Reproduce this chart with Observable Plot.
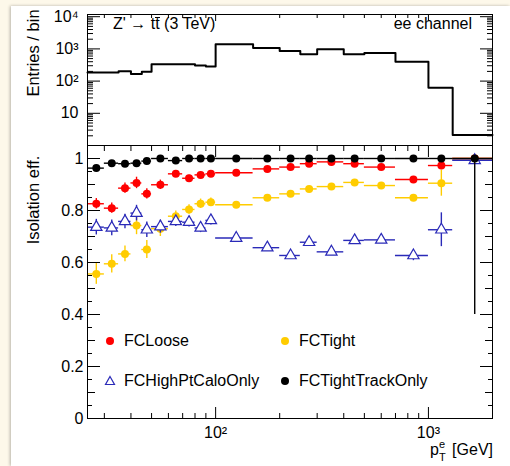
<!DOCTYPE html>
<html><head><meta charset="utf-8">
<script src="https://cdn.jsdelivr.net/npm/d3@7"></script>
<script src="https://cdn.jsdelivr.net/npm/@observablehq/plot@0.6"></script>
<style>
body{margin:0;background:#fdf8ea;font-family:"Liberation Sans",Arial,sans-serif;color:#000;}
#wrap{position:relative;width:510px;height:466px;overflow:hidden;}
#panel{position:absolute;left:11px;top:6px;width:499px;height:460px;background:#fff;box-shadow:-1px 0 3px rgba(0,0,0,0.28);}
.abs{position:absolute;white-space:nowrap;line-height:16px;font-size:16px;}
.rot{transform:translate(-50%,-50%) rotate(-90deg);}
</style></head><body>
<div id="wrap">
<div id="panel"></div>
<div id="top" class="abs" style="left:0;top:0"></div>
<div id="bot" class="abs" style="left:0;top:140px"></div>
<div class="abs rot" style="left:33px;top:53px;font-size:16.5px;">Entries / bin</div>
<div class="abs rot" style="left:33px;top:200px;font-size:16.5px;">Isolation eff.</div>
<div class="abs" style="left:113px;top:16px;">Z' &#8594; t<span style="position:relative;display:inline-block;">t<span style="position:absolute;left:0px;width:5px;top:1px;height:1.3px;background:#000;"></span></span> (3 TeV)</div>
<div class="abs" style="right:38px;top:16px;">ee channel</div>
<div id="legend"></div>
<svg class="abs" style="left:0;top:0;overflow:visible" width="510" height="466">
  <g font-family="'Liberation Sans', Arial, sans-serif" fill="#000">
    <text x="430" y="455" font-size="16">p</text>
    <text x="439" y="461" font-size="11">T</text>
    <text x="439" y="448" font-size="11">e</text>
    <text x="493" y="455" font-size="16" text-anchor="end">[GeV]</text>
  </g>
</svg>
</div>
<script>
// ---- Upper panel: entries per bin ----
const histEdges  = [25,35,40,45,50,80,90,100,150,200,250,300,400,500,700,1000,1300,2000];
const histCounts = [186,204,165,195,336,306,285,1400,1074,867,685,980,685,752,396,62,2.1];

// ---- Lower panel: isolation efficiencies ----
const binLow    = [25,30,35,40,45,50,60,70,80,90,100,150,200,250,300,400,500,700,1000,1300];
const binHigh   = [30,35,40,45,50,60,70,80,90,100,150,200,250,300,400,500,700,1000,1300,2000];
const binCenter = [27.5,32.5,37.5,42.5,47.5,55,65,75,85,95,125,175,225,275,350,450,600,850,1150,1650];

const fcLoose    = [0.826,0.809,0.886,0.906,0.864,0.899,0.941,0.924,0.937,0.941,0.945,0.960,0.967,0.980,0.987,0.980,0.967,0.919,0.973,1.0];
const fcLooseErr = [0.020,0.020,0.020,0.022,0.020,0.018,0.012,0.012,0.010,0.010,0.006,0.005,0.005,0.005,0.004,0.004,0.005,0.008,0.015,0.0];
const fcTight    = [0.556,0.595,0.633,0.742,0.650,0.730,0.778,0.804,0.826,0.832,0.822,0.849,0.864,0.883,0.892,0.908,0.896,0.849,0.905,1.0];
const fcTightErr = [0.040,0.035,0.030,0.035,0.035,0.030,0.020,0.018,0.018,0.016,0.008,0.007,0.006,0.006,0.005,0.005,0.006,0.012,0.050,0.0];
const caloOnly    = [0.736,0.733,0.758,0.790,0.726,0.738,0.758,0.755,0.733,0.762,0.694,0.657,0.627,0.678,0.641,0.685,0.687,0.627,0.726,0.993];
const caloOnlyErr = [0.030,0.030,0.028,0.030,0.030,0.025,0.020,0.018,0.018,0.018,0.010,0.008,0.008,0.008,0.007,0.007,0.008,0.020,0.065,0.010];
const trackOnly    = [0.963,0.982,0.980,0.982,0.990,1.0,0.992,1.0,1.0,1.0,1.0,1.0,1.0,1.0,1.0,1.0,1.0,1.0,1.0,1.0];
const trackOnlyErr = [0.008,0.005,0.005,0.005,0.004,0.003,0.004,0.002,0.002,0.002,0.001,0.001,0.001,0.001,0.001,0.001,0.001,0.002,0.004,0.6];

const seriesNames  = ["FCLoose","FCTight","FCHighPtCaloOnly","FCTightTrackOnly"];
const seriesColors = ["#ff0000","#ffcc00","#2a2ab8","#000000"];

// ---- ticks ----
const xMajor = [100,1000];
const xMinor = [30,40,50,60,70,80,90,200,300,400,500,600,700,800,900];
const xMajorLabels = ["10\u00b2","10\u00b3"];
const upYMajor = [10,100,1000,10000];
const upYMajorLabels = ["10","10\u00b2","10\u00b3","10\u2074"];
const upYMinor = [2,3,4,5,6,7,8,9,20,30,40,50,60,70,80,90,200,300,400,500,600,700,800,900,2000,3000,4000,5000,6000,7000,8000,9000];
const loYMajor = [0,0.2,0.4,0.6,0.8,1.0];
const loYMid = [0.1,0.3,0.5,0.7,0.9];
const loYMinor = [0.05,0.15,0.25,0.35,0.45,0.55,0.65,0.75,0.85,0.95];

const style = {background:"transparent", fontFamily:"'Liberation Sans', Arial, sans-serif", fontSize:"16px", color:"#000", overflow:"visible"};

function yTicks(vals, size){
  return ["left","right"].map(a => Plot.axisY(vals, {anchor:a, tickSize:-size, fill:"none", label:null, stroke:"#000"}));
}
function xTicks(vals, size){
  return ["top","bottom"].map(a => Plot.axisX(vals, {anchor:a, tickSize:-size, fill:"none", label:null, stroke:"#000"}));
}

// Upper
const histPts = histEdges.map((e,i)=>({x:e, y:histCounts[Math.min(i, histCounts.length-1)]}));
const upper = Plot.plot({
  width:510, height:146, marginLeft:87, marginRight:18, marginTop:14, marginBottom:1,
  style,
  x:{type:"log", domain:[25,2000], axis:null},
  y:{type:"log", domain:[1,11700], axis:null},
  marks:[
    Plot.line(histPts, {x:"x", y:"y", curve:"step-after", stroke:"#000", strokeWidth:2}),
    ...yTicks(upYMajor, 13),
    ...yTicks(upYMinor, 6),
    Plot.axisY(upYMajor, {anchor:"left", tickSize:0, tickPadding:9, label:null, tickFormat:(d)=>upYMajorLabels[upYMajor.indexOf(d)], fontSize:16}),
    Plot.axisX(xMajor, {anchor:"top", tickSize:-6, fill:"none", label:null}),
    Plot.axisX(xMinor, {anchor:"top", tickSize:-3, fill:"none", label:null}),
    Plot.frame({stroke:"#000", strokeWidth:1})
  ]
});
document.getElementById("top").append(upper);

// Lower
const effSets = [fcTight, fcLoose, caloOnly, trackOnly];
const errSets = [fcTightErr, fcLooseErr, caloOnlyErr, trackOnlyErr];
const drawOrder = [1,0,2,3];
const effMarks = [];
drawOrder.forEach((si, k) => {
  const vals = effSets[k], errs = errSets[k];
  const rows = binCenter.map((c,i)=>({c, lo:binLow[i], hi:binHigh[i], v:vals[i], v1:Math.max(0, vals[i]-errs[i]), v2:Math.min(1, vals[i]+errs[i])}));
  const col = seriesColors[si];
  effMarks.push(Plot.ruleY(rows, {x1:"lo", x2:"hi", y:"v", stroke:col, strokeWidth:1.4}));
  effMarks.push(Plot.ruleX(rows, {x:"c", y1:"v1", y2:"v2", stroke:col, strokeWidth:1.4}));
  if (si === 2) effMarks.push(Plot.dot(rows, {x:"c", y:"v", symbol:"triangle", r:4.2, stroke:col, fill:"#fff", strokeWidth:1.2}));
  else effMarks.push(Plot.dot(rows, {x:"c", y:"v", r:4, fill:col, stroke:"none"}));
});

const lower = Plot.plot({
  width:510, height:326, marginLeft:87, marginRight:18, marginTop:5, marginBottom:48,
  style,
  x:{type:"log", domain:[25,2000], axis:null},
  y:{domain:[0,1.05], axis:null},
  marks:[
    ...effMarks,
    ...yTicks(loYMajor, 13),
    ...yTicks(loYMid, 8),
    ...yTicks(loYMinor, 5),
    ...xTicks(xMajor, 11),
    ...xTicks(xMinor, 5),
    Plot.axisY(loYMajor, {anchor:"left", tickSize:0, tickPadding:4, label:null, tickFormat:(d)=> d===0?"0":d===1?"1":String(d), fontSize:16}),
    Plot.axisX(xMajor, {anchor:"bottom", tickSize:0, tickPadding:8, label:null, tickFormat:(d)=>xMajorLabels[xMajor.indexOf(d)], fontSize:16}),
    Plot.frame({stroke:"#000", strokeWidth:1})
  ]
});
document.getElementById("bot").append(lower);

// Legend (HTML overlay)
const legendPos = [[110,341],[285,341],[110,381],[285,381]];
const lg = document.getElementById("legend");
seriesNames.forEach((name,i)=>{
  const [x,y] = legendPos[i];
  const sym = i===2
    ? `<svg class="abs" style="left:${x-6}px;top:${y-6}px" width="12" height="12"><path d="M6,1.5 L10.5,9.5 L1.5,9.5 Z" fill="none" stroke="${seriesColors[i]}" stroke-width="1.2"/></svg>`
    : `<svg class="abs" style="left:${x-5}px;top:${y-5}px" width="10" height="10"><circle cx="5" cy="5" r="4" fill="${seriesColors[i]}"/></svg>`;
  lg.insertAdjacentHTML("beforeend", sym + `<div class="abs" style="left:${x+14}px;top:${y-8}px;">${name}</div>`);
});
</script>
</body></html>
